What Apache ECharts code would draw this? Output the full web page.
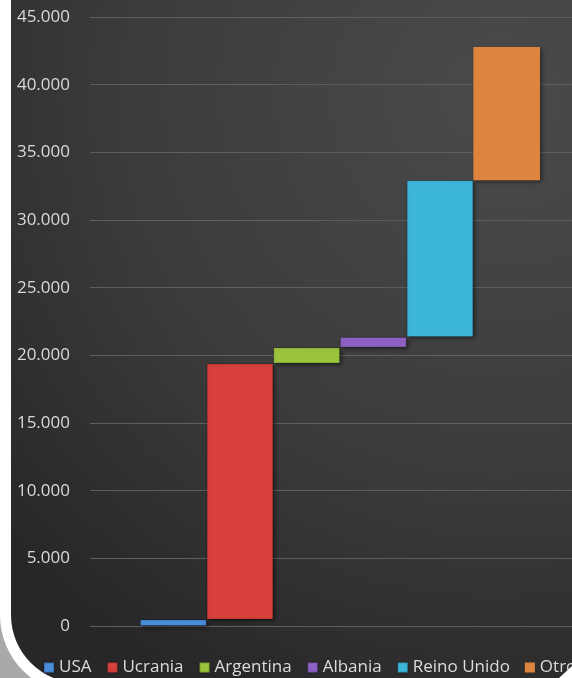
<!DOCTYPE html>
<html>
<head>
<meta charset="utf-8">
<script src="https://cdn.jsdelivr.net/npm/echarts@6/dist/echarts.min.js"></script>
<style>
html,body{margin:0;padding:0;background:#fff;overflow:hidden;width:572px;height:678px;}
#chart{width:590px;height:678px;}
</style>
</head>
<body>
<div id="chart"></div>
<script>
// Data
var countries = ['USA', 'Ucrania', 'Argentina', 'Albania', 'Reino Unido', 'Otro'];
var values = [480, 18920, 1180, 780, 11585, 9830];
var colors = ['#4a8edb', '#d8403c', '#9cc43c', '#8e62c4', '#3db6dc', '#dd853e'];
var yMin = 0, yMax = 45000, yStep = 5000;

function fmt(v) {
  return String(v).replace(/\B(?=(\d{3})+(?!\d))/g, '.');
}

var series = [];
var running = 0;
countries.forEach(function (name, i) {
  series.push({
    name: 'base' + i,
    type: 'bar',
    stack: 's' + i,
    data: [running],
    itemStyle: { color: 'transparent' },
    silent: true,
    barGap: '0%',
    barCategoryGap: '20%'
  });
  series.push({
    name: name,
    type: 'bar',
    stack: 's' + i,
    data: [values[i]],
    barGap: '0%',
    barCategoryGap: '20%',
    itemStyle: {
      color: colors[i],
      borderColor: 'rgba(0,0,0,0.18)',
      borderWidth: i === 5 ? 0 : 1,
      shadowBlur: 4,
      shadowColor: 'rgba(0,0,0,0.45)',
      shadowOffsetX: 2,
      shadowOffsetY: 2
    }
  });
  running += values[i];
});

var chart = echarts.init(document.getElementById('chart'), null, { renderer: 'canvas' });
chart.setOption({
  backgroundColor: '#a9a9a9',
  animation: false,
  graphic: [
    {
      type: 'rect', z: -20, silent: true,
      shape: { x: 0, y: -100, width: 700, height: 794, r: [0, 0, 0, 79] },
      style: { fill: '#ffffff' }
    },
    {
      type: 'rect', z: -19, silent: true,
      shape: { x: 11, y: -100, width: 700, height: 783, r: [0, 0, 0, 68] },
      style: {
        fill: new echarts.graphic.RadialGradient(0.7, 0.25, 0.95, [
          { offset: 0, color: '#4a4a4a' },
          { offset: 0.55, color: '#3c3c3c' },
          { offset: 1, color: '#272727' }
        ])
      }
    },
    {
      type: 'polygon', z: 10, silent: true,
      shape: { points: [[559, 678], [572, 666], [572, 678]] },
      style: { fill: '#ffffff' }
    }
  ],
  grid: { left: 90, top: 17, right: 0, height: 609, containLabel: false },
  legend: {
    data: countries,
    left: 43,
    top: 659,
    width: 600,
    padding: 0,
    itemWidth: 10,
    itemHeight: 10,
    itemGap: 15,
    icon: 'rect',
    textStyle: { color: '#dcdcdc', fontFamily: 'Open Sans', fontSize: 17 }
  },
  xAxis: {
    type: 'category',
    data: [''],
    axisLine: { show: false },
    axisTick: { show: false },
    axisLabel: { show: false }
  },
  yAxis: {
    type: 'value',
    min: yMin,
    max: yMax,
    interval: yStep,
    axisLine: { show: false },
    axisTick: { show: false },
    axisLabel: {
      color: '#d9d9d9',
      fontFamily: 'Open Sans',
      fontSize: 17,
      margin: 20,
      formatter: fmt
    },
    splitLine: { lineStyle: { color: '#5e5e5e', width: 1 } }
  },
  series: series
});
</script>
</body>
</html>
